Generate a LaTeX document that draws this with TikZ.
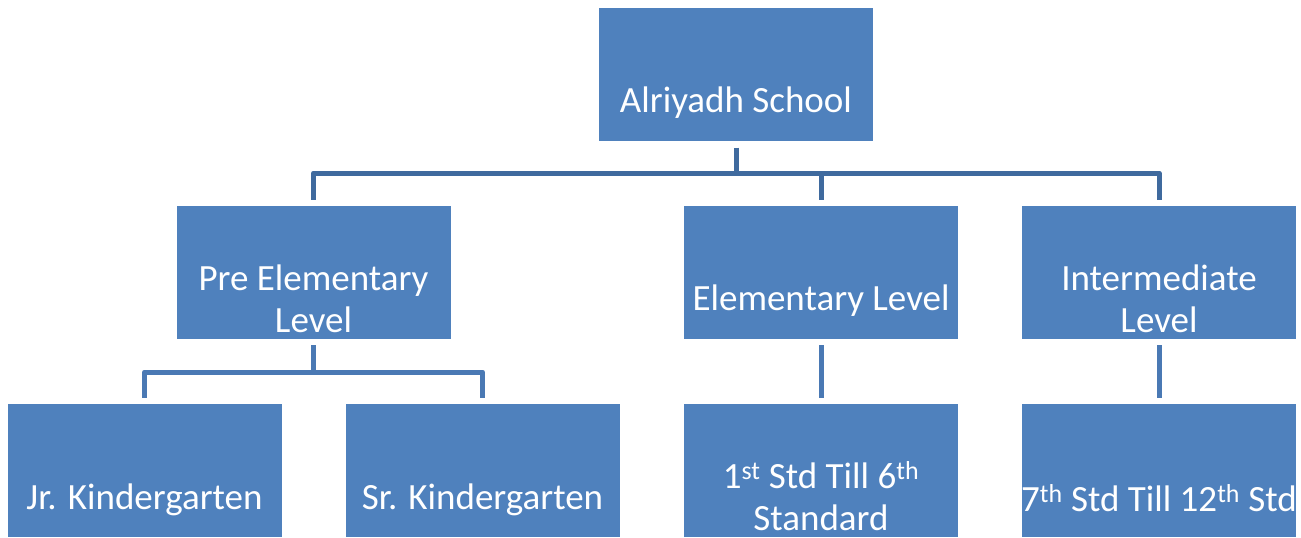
\documentclass[tikz,border=0pt]{standalone}
\usepackage{fontspec}
\setmainfont{Carlito}
\definecolor{boxblue}{HTML}{4F81BD}
\definecolor{lineA}{HTML}{3F6A9E}
\definecolor{lineB}{HTML}{4A79B4}
\begin{document}
\begin{tikzpicture}[x=1pt,y=1pt,
  box/.style={rectangle, fill=boxblue, draw=none, minimum width=274pt, minimum height=133pt, inner sep=0pt},
  lbl/.style={text=white, align=center, font=\fontsize{37}{42}\selectfont, inner sep=0pt},
  connA/.style={draw=lineA, line width=5pt, line join=round},
  connB/.style={draw=lineB, line width=5pt, line join=round}]
\useasboundingbox (0,0) rectangle (1301,-538);
\begin{scope}
\clip (0,0) rectangle (1301,-538);
% boxes
\node[box] (top)   at (736,-74) {};
\node[box] (pre)   at (313.5,-272.5) {};
\node[box] (elem)  at (821,-272.5) {};
\node[box] (inter) at (1159,-272.5) {};
\node[box] (jr)    at (144.5,-470.5) {};
\node[box] (sr)    at (482.5,-470.5) {};
\node[box] (stdA)  at (821,-470.5) {};
\node[box] (stdB)  at (1159,-470.5) {};
\end{scope}
% labels
\node[lbl] (ltop)   at ([yshift=-29pt]top.center) {Alriyadh School};
\node[lbl] (lpre)   at ([yshift=-26pt]pre.center) {Pre Elementary\\Level};
\node[lbl] (lelem)  at ([yshift=-28pt]elem.center) {Elementary Level};
\node[lbl] (linter) at ([yshift=-26pt]inter.center) {Intermediate\\Level};
\node[lbl] (ljr)    at ([yshift=-29pt]jr.center) {Jr. Kindergarten};
\node[lbl] (lsr)    at ([yshift=-29pt]sr.center) {Sr. Kindergarten};
\node[lbl] (lstdA)  at ([yshift=-26pt]stdA.center) {1\textsuperscript{st} Std Till 6\textsuperscript{th}\\Standard};
\node[lbl] (lstdB)  at ([yshift=-28pt]stdB.center) {7\textsuperscript{th} Std Till 12\textsuperscript{th} Std};
% connectors, level 1
\coordinate (bus) at (736,-173);
\draw[connA] ([yshift=-7pt]top.south) -- (bus);
\draw[connA] ([yshift=6pt]pre.north) |- (bus) -| ([yshift=6pt]inter.north);
\draw[connA] (bus -| elem.north) -- ([yshift=6pt]elem.north);
% connectors, level 2
\coordinate (bus2) at (313.5,-372);
\draw[connB] ([yshift=-6pt]pre.south) -- (bus2);
\draw[connB] ([yshift=6pt]jr.north) |- (bus2) -| ([yshift=6pt]sr.north);
\draw[connB] ([yshift=-6pt]elem.south) -- ([yshift=6pt]stdA.north);
\draw[connB] ([yshift=-6pt]inter.south) -- ([yshift=6pt]stdB.north);
\end{tikzpicture}
\end{document}
